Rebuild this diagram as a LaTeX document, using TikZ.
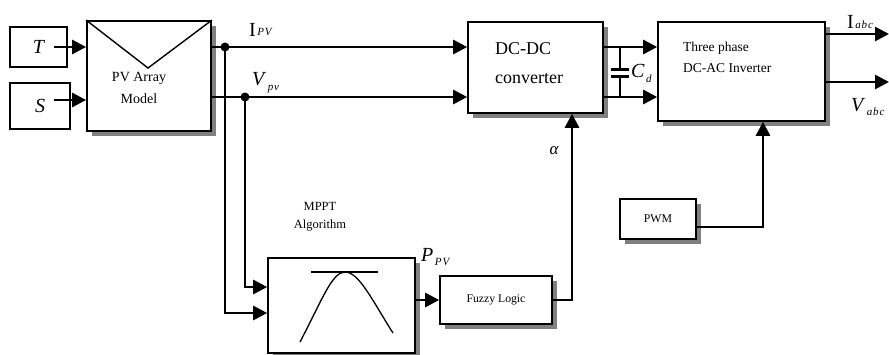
\documentclass[tikz,border=0pt]{standalone}
\usepackage{fontspec}
\setmainfont{Liberation Serif}
\usetikzlibrary{arrows.meta,shadows}

% symbol with subscript: #1 lowering, #2 main, #3 subscript
\newcommand{\sig}[3]{{\fontsize{20}{20}\selectfont #2}\hspace{1.5pt}\raisebox{-#1}{\fontsize{11}{11}\selectfont\itshape\addfontfeature{LetterSpace=8}#3}}

\begin{document}
\begin{tikzpicture}[
    x=1pt, y=-1pt,
    >={Triangle[length=14pt,width=14pt]},
    every node/.style={inner sep=0pt},
    blk/.style={
        draw, line width=1.6pt, fill=white,
        drop shadow={shadow xshift=5pt, shadow yshift=-5pt, fill=black!50, opacity=1}
    },
    src/.style={
        draw, line width=1.3pt, fill=white,
        font=\fontsize{20}{20}\selectfont\itshape
    },
    arr/.style={->, line width=2.7pt},
    wire/.style={line width=2.7pt},
    jdot/.style={circle, fill=black, minimum size=9pt}
]
    \useasboundingbox (0,0) rectangle (889,354);

    % Inputs and PV array
    \node[src, minimum width=57pt, minimum height=40pt] (T) at (38.5,47) {T\hspace{4pt}};
    \node[src, minimum width=60pt, minimum height=46pt] (S) at (40,106) {S\hspace{2pt}};
    \node[blk, line width=1.8pt, minimum width=124pt, minimum height=110pt] (PV) at (149,76) {};
    \draw[line width=1.4pt] (PV.north west) -- (148,68) -- (PV.north east);
    \node[font=\fontsize{14}{22}\selectfont, align=center] (PVtxt) at (139,88) {PV Array\\Model};

    % Power stage
    \node[blk, minimum width=135pt, minimum height=91pt] (DC) at (535.5,67.5) {};
    \node[font=\fontsize{18}{29}\selectfont, align=left, anchor=west] (DCtxt) at (495,63) {DC-DC\\converter};
    \node[blk, minimum width=167pt, minimum height=99pt] (INV) at (741.5,71.5) {};
    \node[font=\fontsize{13.5}{21}\selectfont, align=left, anchor=west] (INVtxt) at (683,57) {Three phase\\DC-AC Inverter};

    % Control blocks
    \node[blk, minimum width=147pt, minimum height=95pt] (MPPT) at (341.5,305.5) {};
    \node[font=\fontsize{12.5}{18}\selectfont, align=center] (MPPTtxt) at (320,217) {MPPT\\Algorithm};
    \draw[line width=1.3pt] (311,272) -- (378,272);
    \draw[line width=1.3pt] (300,342) .. controls (322,300) and (332,272) .. (345,272)
        .. controls (359,272) and (372,300) .. (393,333);
    \node[blk, minimum width=112pt, minimum height=48pt, font=\fontsize{11.7}{14}\selectfont] (FL) at (496,300) {Fuzzy Logic};
    \node[blk, minimum width=76pt, minimum height=40pt, font=\fontsize{11.8}{14}\selectfont] (PWM) at (658,219) {PWM};

    % Junctions and outputs
    \coordinate (jI) at (225,47);
    \coordinate (jV) at (245,97);
    \coordinate (Iabc) at (889,34);
    \coordinate (Vabc) at (889,82);

    % Edges
    \draw[arr] ([xshift=-14pt]T.east) -- (PV.west |- T.east);
    \draw[arr] ([xshift=-17pt,yshift=6pt]S.east) -- (PV.west |- 0,100);
    \draw[arr] (PV.east |- jI) -- (DC.west |- jI);
    \draw[arr] (PV.east |- jV) -- (DC.west |- jV);
    \draw[arr] (jI) |- (MPPT.west |- 0,313);
    \draw[arr] (jV) |- (MPPT.west |- 0,287);
    \node[jdot] (dI) at (jI) {};
    \node[jdot] (dV) at (jV) {};
    \draw[arr] (MPPT.east |- FL.west) -- (FL.west);
    \draw[arr] (FL.east) -| ([xshift=36.5pt]DC.south);
    \draw[arr] ([yshift=-8pt]PWM.east) -| ([xshift=21.5pt]INV.south);
    \draw[arr] (DC.east |- jI) -- (INV.west |- jI);
    \draw[arr] (DC.east |- jV) -- (INV.west |- jV);
    \draw[arr] (INV.east |- Iabc) -- (Iabc);
    \draw[arr] (INV.east |- Vabc) -- (Vabc);

    % DC-link capacitor
    \draw[wire] (620,47) -- (620,69.5);
    \draw[wire] (611,69.5) -- (629,69.5);
    \draw[wire] (611,76.5) -- (629,76.5);
    \draw[wire] (620,76.5) -- (620,97);

    % Labels
    \node[anchor=base west] (lIpv) at (249,36) {\sig{-1pt}{I}{PV}};
    \node[anchor=base west] (lVpv) at (252,85) {\sig{5pt}{\textit{V}}{pv}};
    \node[anchor=base west] (lPpv) at (421,261) {\sig{4pt}{\textit{P}}{PV}};
    \node[anchor=base west] (lIabc) at (847,28) {\sig{0pt}{I}{abc}};
    \node[anchor=base west] (lVabc) at (851,111) {\sig{4pt}{\textit{V}}{abc}};
    \node[anchor=base west] (lCd) at (631,77) {\sig{5pt}{\textit{C}}{d}};
    \node[font=\fontsize{17}{17}\selectfont\itshape] (lalpha) at (554,151) {α};

\end{tikzpicture}
\end{document}
